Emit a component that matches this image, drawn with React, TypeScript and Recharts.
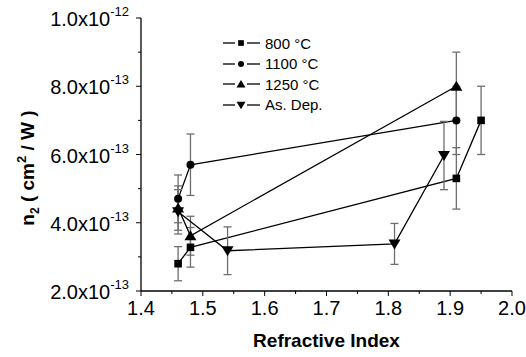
import React from 'react';
import { ComposedChart, Line, XAxis, YAxis, ErrorBar, Legend } from 'recharts';

// values in units of 1e-13 cm^2/W
const x800 = [1.46, 1.48, 1.91, 1.95];
const n800 = [2.8, 3.28, 5.3, 7.0];
const e800 = [0.5, 0.58, 0.9, 1.0];

const x1100 = [1.46, 1.48, 1.91];
const n1100 = [4.7, 5.7, 7.0];
const e1100 = [0.7, 0.9, 1.0];

const x1250 = [1.46, 1.48, 1.91];
const n1250 = [4.43, 3.62, 8.0];
const e1250 = [0.65, 0.57, 1.0];

const xDep = [1.46, 1.54, 1.81, 1.89];
const nDep = [4.32, 3.18, 3.38, 5.97];
const eDep = [0.65, 0.7, 0.6, 1.0];

const xTicks = [1.4, 1.45, 1.5, 1.55, 1.6, 1.65, 1.7, 1.75, 1.8, 1.85, 1.9, 1.95, 2.0];
const yTicks = [2, 3, 4, 5, 6, 7, 8, 9, 10];

const FONT = '"Liberation Sans", Arial, sans-serif';
const ERR = '#6e6e6e';

const toRows = (xs: number[], ns: number[], es: number[]) =>
  xs.map((x, i) => ({ x, n: ns[i], e: es[i] }));

const series = [
  { name: '800 °C', shape: 'square', data: toRows(x800, n800, e800) },
  { name: '1100 °C', shape: 'circle', data: toRows(x1100, n1100, e1100) },
  { name: '1250 °C', shape: 'up', data: toRows(x1250, n1250, e1250) },
  { name: 'As. Dep.', shape: 'down', data: toRows(xDep, nDep, eDep) },
];

const Marker = ({ shape, cx, cy, s = 1 }: any) => {
  if (shape === 'square') {
    const h = 3.8 * s;
    return <rect x={cx - h} y={cy - h} width={2 * h} height={2 * h} fill="#000" />;
  }
  if (shape === 'circle') return <circle cx={cx} cy={cy} r={4 * s} fill="#000" />;
  const w = 6 * s;
  if (shape === 'up') {
    return <polygon points={`${cx - w},${cy + 4.5 * s} ${cx + w},${cy + 4.5 * s} ${cx},${cy - 5.5 * s}`} fill="#000" />;
  }
  return <polygon points={`${cx - w},${cy - 4.5 * s} ${cx + w},${cy - 4.5 * s} ${cx},${cy + 5.5 * s}`} fill="#000" />;
};

const isMajorX = (v: number) => Math.round(v * 100) % 10 === 0;

const BottomTick = ({ x, y, payload }: any) => {
  const major = isMajorX(payload.value);
  return (
    <g>
      <line x1={x} y1={y} x2={x} y2={y + (major ? 5 : 3)} stroke="#000" />
      {major && (
        <text x={x} y={y + 24} textAnchor="middle" fontSize={20} fontFamily={FONT} fill="#000">
          {payload.value.toFixed(1)}
        </text>
      )}
    </g>
  );
};

const TopTick = ({ x, y }: any) => <line x1={x} y1={y + 1} x2={x} y2={y - 3} stroke="#000" />;

const LeftTick = ({ x, y, payload }: any) => {
  const v = payload.value;
  const major = v % 2 === 0;
  return (
    <g>
      <line x1={x} y1={y} x2={x - (major ? 5 : 3)} y2={y} stroke="#000" />
      {major && (
        <text x={x - 12} y={y + 8} textAnchor="end" fontSize={20} fontFamily={FONT} fill="#000">
          {v === 10 ? '1.0x10' : `${v.toFixed(1)}x10`}
          <tspan dy={-10} fontSize={13}>{v === 10 ? '-12' : '-13'}</tspan>
        </text>
      )}
    </g>
  );
};

const RightTick = ({ x, y, payload }: any) => {
  const major = payload.value % 2 === 0;
  return <line x1={x} y1={y} x2={x + (major ? 5 : 3)} y2={y} stroke="#000" />;
};

const XTitle = ({ viewBox }: any) => (
  <text
    x={viewBox.x + viewBox.width / 2}
    y={viewBox.y + 56}
    textAnchor="middle"
    fontSize={19}
    fontWeight="bold"
    fontFamily={FONT}
    fill="#000"
  >
    Refractive Index
  </text>
);

const YTitle = () => (
  <g transform="translate(34,168) rotate(-90)">
    <text x={0} y={0} textAnchor="middle" fontSize={19} fontWeight="bold" fontFamily={FONT} fill="#000">
      n<tspan dy={5} fontSize={12}>2</tspan>
      <tspan dy={-5}> ( cm</tspan>
      <tspan dy={-8} fontSize={13}>2</tspan>
      <tspan dy={8}> / W )</tspan>
    </text>
  </g>
);

const LegendBox = () => (
  <div style={{ fontFamily: FONT, fontSize: 15, color: '#000' }}>
    {series.map((s) => (
      <div key={s.name} style={{ display: 'flex', alignItems: 'center', height: 20.5 }}>
        <svg width={40} height={14} style={{ marginRight: 4 }}>
          <line x1={2} y1={7} x2={14} y2={7} stroke="#000" strokeWidth={1.3} />
          <line x1={26} y1={7} x2={39} y2={7} stroke="#000" strokeWidth={1.3} />
          <Marker shape={s.shape} cx={20} cy={7} s={0.75} />
        </svg>
        <span>{s.name}</span>
      </div>
    ))}
  </div>
);

export default function App() {
  return (
    <div style={{ position: 'absolute', left: 0, top: 0, background: '#fff' }}>
      <ComposedChart width={526} height={357} margin={{ top: 18, right: 14, bottom: 36, left: 0 }}>
        <XAxis
          type="number"
          dataKey="x"
          domain={[1.4, 2.0]}
          ticks={xTicks}
          interval={0}
          height={30}
          tickSize={0}
          tickMargin={0}
          tickLine={false}
          tick={<BottomTick />}
          axisLine={{ stroke: '#000', strokeWidth: 1.3 }}
          allowDataOverflow
          label={<XTitle />}
        />
        <XAxis
          xAxisId="top"
          orientation="top"
          type="number"
          dataKey="x"
          domain={[1.4, 2.0]}
          ticks={xTicks}
          interval={0}
          height={0}
          tickSize={0}
          tickMargin={0}
          tickLine={false}
          tick={<TopTick />}
          axisLine={{ stroke: '#000', strokeWidth: 1.3 }}
          allowDataOverflow
        />
        <YAxis
          type="number"
          domain={[2, 10]}
          ticks={yTicks}
          interval={0}
          width={141}
          tickSize={0}
          tickMargin={0}
          tickLine={false}
          tick={<LeftTick />}
          axisLine={{ stroke: '#000', strokeWidth: 1.3 }}
          allowDataOverflow
          label={<YTitle />}
        />
        <YAxis
          yAxisId="right"
          orientation="right"
          type="number"
          domain={[2, 10]}
          ticks={yTicks}
          interval={0}
          width={0}
          tickSize={0}
          tickMargin={0}
          tickLine={false}
          tick={<RightTick />}
          axisLine={{ stroke: '#000', strokeWidth: 1.3 }}
          allowDataOverflow
        />
        <Legend
          layout="horizontal"
          verticalAlign="middle"
          align="center"
          content={<LegendBox />}
          wrapperStyle={{ left: 221, top: 33, width: 140 }}
        />
        {series.map((s) => (
          <Line
            key={s.name}
            name={s.name}
            data={s.data}
            dataKey="n"
            stroke="#000"
            strokeWidth={1.3}
            isAnimationActive={false}
            dot={(p: any) => <Marker key={`${s.name}-${p.index}`} shape={s.shape} cx={p.cx} cy={p.cy} />}
            activeDot={false}
          >
            <ErrorBar dataKey="e" direction="y" width={4} stroke={ERR} strokeWidth={1.3} isAnimationActive={false} />
          </Line>
        ))}
      </ComposedChart>
    </div>
  );
}
